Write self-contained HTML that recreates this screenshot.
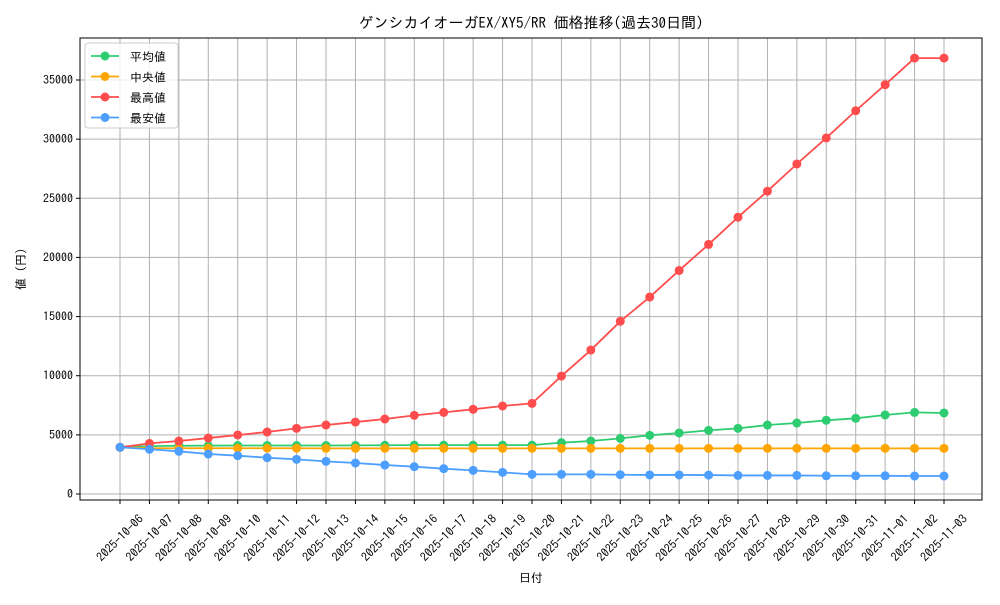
<!DOCTYPE html>
<html><head><meta charset="utf-8"><style>
body{margin:0;background:#fff;}
svg text{font-family:"IPAGothic","Noto Sans CJK JP",monospace;fill:#000;}
</style></head><body>
<svg id="chart" width="1000" height="600" xmlns="http://www.w3.org/2000/svg"></svg>
<script>
const dates=["2025-10-06","2025-10-07","2025-10-08","2025-10-09","2025-10-10","2025-10-11","2025-10-12","2025-10-13","2025-10-14","2025-10-15","2025-10-16","2025-10-17","2025-10-18","2025-10-19","2025-10-20","2025-10-21","2025-10-22","2025-10-23","2025-10-24","2025-10-25","2025-10-26","2025-10-27","2025-10-28","2025-10-29","2025-10-30","2025-10-31","2025-11-01","2025-11-02","2025-11-03"];
const avgVals=[3950,4050,4080,4090,4100,4100,4100,4100,4110,4120,4130,4130,4130,4130,4130,4340,4480,4700,4960,5160,5380,5550,5830,6000,6230,6400,6680,6900,6850];
const medVals=[3950,3880,3870,3870,3870,3870,3870,3860,3860,3860,3860,3860,3860,3860,3860,3860,3860,3860,3860,3860,3860,3860,3860,3860,3860,3860,3860,3860,3860];
const maxVals=[3950,4280,4480,4730,4990,5240,5550,5830,6080,6340,6650,6900,7160,7440,7660,9970,12170,14600,16650,18900,21100,23400,25600,27900,30100,32400,34600,36850,36850];
const minVals=[3950,3780,3610,3380,3240,3070,2930,2760,2620,2450,2310,2140,2000,1830,1660,1660,1660,1630,1610,1610,1600,1570,1570,1570,1540,1540,1540,1520,1520];
const yTicks=[0,5000,10000,15000,20000,25000,30000,35000];
const seriesNames=["平均値","中央値","最高値","最安値"];
const seriesColors=["#2ecc71","#ffa500","#ff4d4d","#4d9fff"];
const seriesData=[avgVals,medVals,maxVals,minVals];

const svg=document.getElementById('chart');
const NS="http://www.w3.org/2000/svg";
const L=80,R=982,T=38,B=500;
const x0=120,x1=944;
function xs(i){return x0+(x1-x0)*i/(dates.length-1);}
function ys(v){return 494-v*(494-80)/35000;}
function mk(tag,attrs,parent){const e=document.createElementNS(NS,tag);for(const k in attrs)e.setAttribute(k,attrs[k]);(parent||svg).appendChild(e);return e;}

dates.forEach((d,i)=>{const g=mk('line',{x1:xs(i),x2:xs(i),y1:T,y2:B,stroke:'#b0b0b0','stroke-width':1});

});
yTicks.forEach(v=>{const g=mk('line',{x1:L,x2:R,y1:ys(v),y2:ys(v),stroke:'#b0b0b0','stroke-width':1});

});
const fr=mk('rect',{x:L,y:T,width:R-L,height:B-T,fill:'none',stroke:'#000','stroke-width':1});


yTicks.forEach(v=>{mk('line',{x1:L-4,x2:L,y1:ys(v),y2:ys(v),stroke:'#000'});
const t=mk('text',{x:L-7,y:ys(v)+4,'text-anchor':'end','font-size':12});t.textContent=v;

});
dates.forEach((d,i)=>{mk('line',{x1:xs(i),x2:xs(i),y1:B,y2:B+4,stroke:'#000'});
const cx=xs(i), cy=538;
const t=mk('text',{x:cx,y:cy+4,'text-anchor':'middle','font-size':12,transform:`rotate(-45 ${cx} ${cy})`});t.textContent=d;

});
seriesData.forEach((arr,s)=>{
const g=mk('g',{});


mk('polyline',{points:arr.map((v,i)=>xs(i)+','+ys(v)).join(' '),fill:'none',stroke:seriesColors[s],'stroke-width':1.8},g);
arr.forEach((v,i)=>{const c=mk('circle',{cx:xs(i),cy:ys(v),r:4.5,fill:seriesColors[s]},g);

});
});
const ti=mk('text',{x:531,y:28,'text-anchor':'middle','font-size':15});ti.textContent='ゲンシカイオーガEX/XY5/RR 価格推移(過去30日間)';


const xl=mk('text',{x:531,y:582,'text-anchor':'middle','font-size':12});xl.textContent='日付';


const yl=mk('text',{x:25,y:269,'text-anchor':'middle','font-size':12,transform:'rotate(-90 25 269)'});yl.textContent='値 (円)';


const lg=mk('g',{});


mk('rect',{x:85,y:43,width:93,height:85,rx:3,fill:'#fff','fill-opacity':0.8,stroke:'#ccc'},lg);
seriesNames.forEach((n,s)=>{const yy=56+s*20.5;
const e=mk('g',{},lg);


mk('line',{x1:91,x2:119,y1:yy,y2:yy,stroke:seriesColors[s],'stroke-width':1.8},e);
mk('circle',{cx:105,cy:yy,r:4.5,fill:seriesColors[s]},e);
const t=mk('text',{x:130,y:yy+5,'font-size':12},e);t.textContent=n;});
</script>
</body></html>
